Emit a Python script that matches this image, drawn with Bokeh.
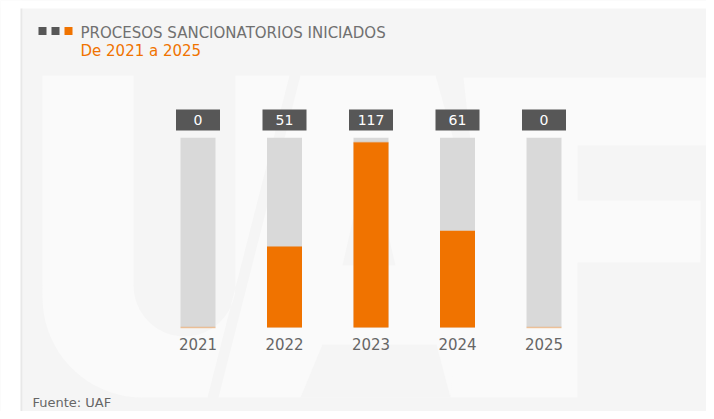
import numpy as np
from bokeh.plotting import figure
from bokeh.models import Range1d
from bokeh.embed import file_html
from bokeh.resources import INLINE
from bokeh.core.properties import value

# ---------------- data ----------------
years = [2021, 2022, 2023, 2024, 2025]
year_labels = ["2021", "2022", "2023", "2024", "2025"]
procesos = [0, 51, 117, 61, 0]
value_labels = ["0", "51", "117", "61", "0"]
scale_max = 120

title_text = "PROCESOS SANCIONATORIOS INICIADOS"
subtitle_text = "De 2021 a 2025"
source_text = "Fuente: UAF"

# ---------------- layout ----------------
W, H = 706, 411
YEAR_PX = 86.5                 # pixels per year
FIRST_PX = 197.5               # centre of first bar
K = 185.0 / 117.0              # pixels per unit
BASE_PX = 327.0                # zero line from the top

x0 = years[0] - FIRST_PX / YEAR_PX
x1 = x0 + W / YEAR_PX
y1 = BASE_PX / K
y0 = y1 - H / K


def px2x(px):
    return x0 + np.asarray(px, dtype=float) / YEAR_PX


def px2y(py):
    return y1 - np.asarray(py, dtype=float) / K


PANEL = "#f5f5f5"
WATER = "#fafafa"
ORANGE = "#f07300"
DARK = "#575757"
GREYBAR = "#d9d9d9"

p = figure(width=W, height=H, x_range=Range1d(x0, x1), y_range=Range1d(y0, y1),
           output_backend="svg", toolbar_location=None,
           x_axis_location=None, y_axis_location=None,
           min_border_left=0, min_border_right=0, min_border_top=0, min_border_bottom=0,
           background_fill_color=PANEL, border_fill_color="white", outline_line_color=None)
p.grid.visible = False

# white page area outside the panel (left strip and top strip)
p.quad(left=[float(px2x(0)), float(px2x(0))], right=[float(px2x(22)), float(px2x(W))],
       bottom=[float(px2y(H)), float(px2y(8))], top=[float(px2y(0)), float(px2y(0))],
       fill_color="white", line_color=None)
# soft shadow along the panel's left edge
p.segment(x0=[float(px2x(21))], y0=[float(px2y(8))], x1=[float(px2x(21))], y1=[float(px2y(H))],
          line_color="#e8e8e8", line_width=2)

# ---------------- watermark "UAF" ----------------
def arc(cx, cy, r, a0, a1, n=20):
    t = np.radians(np.linspace(a0, a1, n))
    return list(cx + r * np.cos(t)), list(cy + r * np.sin(t))


def strip_x(y, off):
    return off + (397 - y) * 82.0 / 322.0


bl = arc(142, 297, 100, 180, 90)
cn = arc(184, 285, 51, 0, 180)
ux = [42, 42] + bl[0] + [strip_x(397, 207), strip_x(75, 207), 235, 235] + cn[0] + [133, 133]
uy = [75, 297] + bl[1] + [397, 75, 75, 285] + cn[1] + [285, 75]

a_x = [strip_x(397, 218), strip_x(75, 218), 435, 470, 450]
a_y = [397, 75, 75, 200, 397]
f_x = [463, 714, 714, 577, 577, 700, 700, 577, 577, 450, 470]
f_y = [77, 77, 145, 145, 200, 200, 262, 262, 397, 397, 140]

p.patches(xs=[list(px2x(ux)), list(px2x(a_x)), list(px2x(f_x))],
          ys=[list(px2y(uy)), list(px2y(a_y)), list(px2y(f_y))],
          fill_color=WATER, line_color=None)
c_x = [368, 395, 342]
c_y = [150, 265, 265]
g_x = [300, 322, 436, 450]
g_y = [397, 344, 344, 397]
p.patches(xs=[list(px2x(c_x)), list(px2x(g_x))],
          ys=[list(px2y(c_y)), list(px2y(g_y))],
          fill_color=PANEL, line_color=None)

# ---------------- bars ----------------
bw = 35.0 / YEAR_PX
p.vbar(x=years, top=[scale_max] * len(years), bottom=0, width=bw,
       fill_color=GREYBAR, line_color=None)
p.vbar(x=years, top=procesos, bottom=0, width=bw,
       fill_color=ORANGE, line_color=None)
# faint top edge of each orange bar (visible only where the value is zero)
half = bw / 2
p.segment(x0=[y - half for y in years], x1=[y + half for y in years],
          y0=procesos, y1=procesos, line_color=ORANGE, line_alpha=0.35, line_width=1.5)

# value boxes
box_y = float(px2y(119.5))
p.rect(x=years, y=[box_y] * len(years), width=44, height=21,
       width_units="screen", height_units="screen", fill_color=DARK, line_color=None)
p.text(x=years, y=[box_y] * len(years), text=value_labels,
       text_font=value("DejaVu Sans"), text_font_size="14px", text_color="white",
       text_align="center", text_baseline="middle")

# year labels
p.text(x=years, y=[float(px2y(343.3))] * len(years), text=year_labels,
       text_font=value("DejaVu Sans"), text_font_size="15px", text_color="#666666",
       text_align="center", text_baseline="middle")

# ---------------- title ----------------
sq_x = [42, 55, 68]
p.rect(x=list(px2x(sq_x)), y=[float(px2y(30.6))] * 3, width=8, height=8,
       width_units="screen", height_units="screen",
       fill_color=[DARK, DARK, ORANGE], line_color=None)
p.text(x=[float(px2x(80))], y=[float(px2y(32))], text=[title_text],
       text_font=value("DejaVu Sans"), text_font_size="15px", text_color="#707070",
       text_align="left", text_baseline="middle")
p.text(x=[float(px2x(80))], y=[float(px2y(50.7))], text=[subtitle_text],
       text_font=value("DejaVu Sans"), text_font_size="15px", text_color=ORANGE,
       text_align="left", text_baseline="middle")
p.text(x=[float(px2x(32))], y=[float(px2y(401.5))], text=[source_text],
       text_font=value("DejaVu Sans"), text_font_size="13px", text_color="#666666",
       text_align="left", text_baseline="middle")

open("out.html", "w").write(file_html(p, INLINE))
